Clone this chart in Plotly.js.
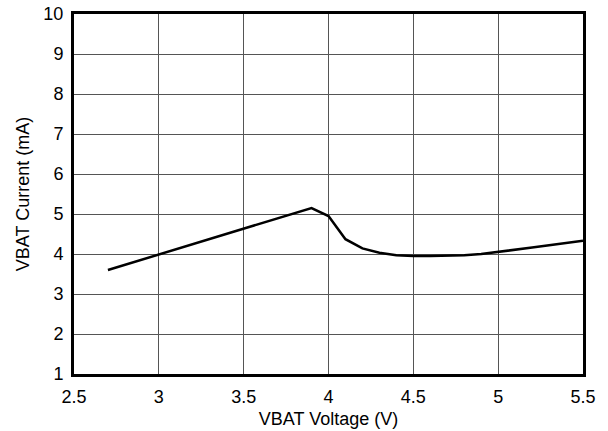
<!DOCTYPE html>
<html>
<head>
<meta charset="utf-8">
<script src="https://cdn.plot.ly/plotly-3.0.1.min.js"></script>
<style>html,body{margin:0;padding:0;background:#fff;}#chart{width:608px;height:431px;}</style>
</head>
<body>
<div id="chart"></div>
<script>
const voltage = [2.7, 3.9, 4.0, 4.1, 4.2, 4.3, 4.4, 4.5, 4.6, 4.7, 4.8, 4.9, 5.0, 5.1, 5.2, 5.3, 5.4, 5.5];
const current = [3.6, 5.15, 4.95, 4.37, 4.14, 4.03, 3.97, 3.95, 3.95, 3.96, 3.97, 4.0, 4.05, 4.1, 4.16, 4.22, 4.27, 4.33];
const xTicks = [2.5, 3, 3.5, 4, 4.5, 5, 5.5];
const xTickText = ['2.5', '3', '3.5', '4', '4.5', '5', '5.5'];
const yTicks = [1, 2, 3, 4, 5, 6, 7, 8, 9, 10];

const trace = {
  x: voltage, y: current, type: 'scatter', mode: 'lines',
  line: {color: '#000', width: 2.5}, hoverinfo: 'skip'
};
const font = {family: 'Liberation Sans, Arial, sans-serif', size: 18, color: '#000'};
const layout = {
  width: 608, height: 431,
  margin: {l: 74, r: 25, t: 14, b: 57},
  paper_bgcolor: '#fff', plot_bgcolor: '#fff',
  showlegend: false,
  font: font,
  xaxis: {
    range: [2.5, 5.5], tickvals: xTicks, ticktext: xTickText,
    showgrid: true, gridcolor: '#555', gridwidth: 1,
    showline: true, linecolor: '#000', linewidth: 3, mirror: true,
    zeroline: false, ticks: '', tickfont: font, ticklabelstandoff: 4,
    title: {text: 'VBAT Voltage (V)', font: font, standoff: 7}
  },
  yaxis: {
    range: [1, 10], tickvals: yTicks,
    showgrid: true, gridcolor: '#555', gridwidth: 1,
    showline: true, linecolor: '#000', linewidth: 3, mirror: true,
    zeroline: false, ticks: '', tickfont: font, ticklabelstandoff: 4,
    title: {text: 'VBAT Current (mA)', font: font, standoff: 10}
  }
};
Plotly.newPlot('chart', [trace], layout, {staticPlot: true, displayModeBar: false});
</script>
</body>
</html>
